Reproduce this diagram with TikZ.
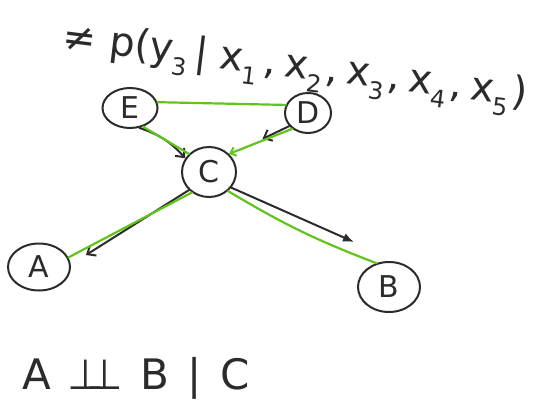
\documentclass[tikz,border=0pt]{standalone}
\usepackage{fontspec}
\setsansfont{DejaVu Sans}
\usetikzlibrary{shapes.geometric,arrows.meta,calc}
\definecolor{ink}{HTML}{2B2B2B}
\definecolor{grn}{HTML}{62C41A}
\newcommand{\sbs}[1]{\raisebox{-0.3em}{\fontsize{24}{24}\selectfont #1}}
\tikzset{
  rv/.style={draw=ink, line width=2pt, ellipse, inner sep=0pt, font=\sffamily\fontsize{30}{30}\selectfont, text=ink},
  blk/.style={draw=ink, line width=2pt, line cap=round},
  gline/.style={draw=grn, line width=2.2pt, line cap=round},
  barb/.style={-{Straight Barb[length=7pt,width=12pt,line width=2pt]}},
  hand/.style={text=ink, font=\sffamily\fontsize{40}{46}\selectfont, inner sep=0pt},
}
\begin{document}
\begin{tikzpicture}[x=1pt,y=-1pt]
\useasboundingbox (0,0) rectangle (543,409);
% nodes
\node[rv, minimum width=55pt, minimum height=40pt] (E) at (130,108) {E};
\node[rv, minimum width=46pt, minimum height=40pt] (D) at (308,113) {D};
\node[rv, minimum width=54pt, minimum height=50pt] (C) at (209,172) {C};
\node[rv, minimum width=62pt, minimum height=47pt] (A) at (39,267) {A};
\node[rv, minimum width=62pt, minimum height=50pt] (B) at (389,287) {B};
% title
\node[hand, rotate=-7, anchor=west] (T) at (62,40)
  {≠\hspace{0.35em}p(y\sbs{3}\hspace{0.15em}|\hspace{0.3em}x\sbs{1}\hspace{0.12em},\hspace{0.22em}x\sbs{2}\hspace{0.05em},\hspace{0.22em}x\sbs{3}\hspace{0.05em},\hspace{0.22em}x\sbs{4}\hspace{0.05em},\hspace{0.22em}x\sbs{5}\hspace{0.05em})};
% bottom
\node[hand, anchor=west, font=\sffamily\fontsize{42}{48}\selectfont] (I) at (22,378)
  {A\hspace{0.4em}⊥\kern-0.42em⊥\hspace{0.4em}B\hspace{0.45em}|\hspace{0.45em}C};
% coordinates for free ends
\coordinate (cb) at (354,242);
\coordinate (ca) at (86,255);
\coordinate (cd) at ($(D.215)!0.45!(C.40)$);
% edges
\draw[gline] (E.12) -- (D.160);
\draw[blk, barb] (E.-65) to[bend left=15] (C.150);
\draw[gline] (E.-55) -- (C.138);
\draw[blk, barb] (D.215) -- (cd);
\draw[gline, -{Straight Barb[length=5pt,width=9pt,line width=2pt]}] (D.225) -- (C.42);
\draw[blk, barb] (C.222) -- (ca);
\draw[gline] (C.230) -- (A.18);
\draw[blk, -{Latex[length=11pt,width=9pt]}] (C.-35) -- (cb);
\draw[gline] (C.-45) to[bend right=5] (B.118);
\end{tikzpicture}
\end{document}
